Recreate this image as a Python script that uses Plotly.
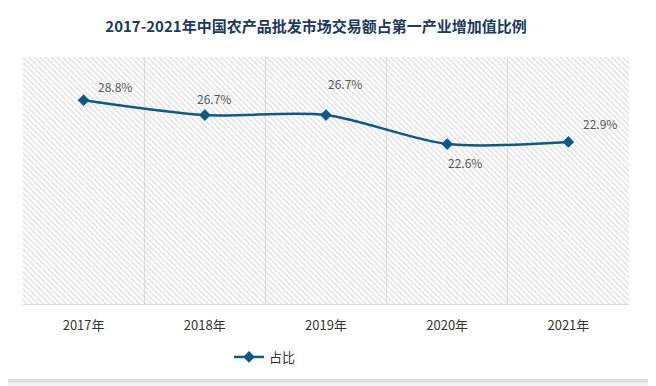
import plotly.graph_objects as go

# ---- data ----
years = ["2017年", "2018年", "2019年", "2020年", "2021年"]
share = [28.8, 26.7, 26.7, 22.6, 22.9]
series_name = "占比"
title_text = "2017-2021年中国农产品批发市场交易额占第一产业增加值比例"

# label offsets (style)
label_dx = [31, 9, 19, 18, 32]
label_dy = [14, 17, 32, -18, 18]

# page is rendered with an 8px body margin: compensate
OFF = 8
W, H = 656 - OFF, 386 - OFF
# plot area in page pixels
PL, PR, PT, PB = 23, 629, 57, 304
ML, MT = PL - OFF, PT - OFF
MR = W - (PR - OFF)
MB = H - (PB - OFF)
PW, PH = W - ML - MR, H - MT - MB


def px2x(px):  # page pixel -> paper x
    return (px - OFF - ML) / PW


def py2y(py):  # page pixel -> paper y
    return (H - MB - (py - OFF)) / PH


LINE = "#0e5a86"
FONT = "Noto Sans CJK SC, Noto Sans, sans-serif"

fig = go.Figure()

# hatched background of plot area (on hidden base axes)
fig.add_trace(go.Scatter(
    x=[0, 1, 1, 0, 0], y=[0, 0, 1, 1, 0], xaxis="x", yaxis="y",
    mode="lines", line=dict(width=0), fill="toself",
    fillcolor="rgba(0,0,0,0)",
    fillpattern=dict(shape="\\", fgcolor="#c6c6c6", bgcolor="rgba(255,255,255,0)",
                     size=4, solidity=0.4),
    hoverinfo="skip", showlegend=False,
))

# data line
fig.add_trace(go.Scatter(
    x=list(range(len(years))), y=share, xaxis="x2", yaxis="y2",
    mode="lines+markers", name=series_name,
    line=dict(color=LINE, width=2.5, shape="spline", smoothing=0.8),
    marker=dict(symbol="diamond", size=9, color=LINE),
))

annotations = []
for i, v in enumerate(share):
    annotations.append(dict(
        x=i, y=v, xref="x2", yref="y2", text=f"{v}%", showarrow=False,
        xshift=label_dx[i], yshift=label_dy[i],
        font=dict(family=FONT, size=12, color="#595959"),
    ))

shapes = [
    # outer grey surround with shadow
    dict(type="rect", xref="paper", yref="paper", layer="below",
         x0=px2x(0), x1=px2x(656), y0=py2y(386), y1=py2y(0),
         fillcolor="#f2f2f2", line=dict(width=0)),
    dict(type="rect", xref="paper", yref="paper", layer="below",
         x0=px2x(5), x1=px2x(652), y0=py2y(383), y1=py2y(3),
         fillcolor="#e8e8e8", line=dict(width=0)),
    dict(type="rect", xref="paper", yref="paper", layer="below",
         x0=px2x(6), x1=px2x(651), y0=py2y(382), y1=py2y(4),
         fillcolor="#dedede", line=dict(width=0)),
    # card
    dict(type="rect", xref="paper", yref="paper", layer="below",
         x0=px2x(8), x1=px2x(648), y0=py2y(379), y1=py2y(7),
         fillcolor="#ffffff", line=dict(width=0)),
]

fig.update_layout(
    width=W, height=H,
    margin=dict(l=ML, r=MR, t=MT, b=MB, pad=0),
    paper_bgcolor="#f2f2f2",
    plot_bgcolor="rgba(0,0,0,0)",
    font=dict(family=FONT, color="#333333"),
    title=dict(text=f"<b>{title_text}</b>", x=(316 - OFF) / W, xanchor="center",
               y=1 - (27 - OFF) / H, yanchor="middle",
               font=dict(family=FONT, size=15, color="#1b3a5c")),
    xaxis=dict(range=[0, 1], visible=False, fixedrange=True),
    yaxis=dict(range=[0, 1], visible=False, fixedrange=True),
    xaxis2=dict(overlaying="x", side="bottom", range=[-0.5, len(years) - 0.5],
                tickmode="array", tickvals=list(range(len(years))), ticktext=years,
                showgrid=False, zeroline=False,
                showline=True, linecolor="#d9d9d9", linewidth=1,
                ticks="outside", ticklen=9, tickcolor="rgba(0,0,0,0)",
                tickfont=dict(family=FONT, size=13, color="#333333"),
                minor=dict(tickmode="linear", tick0=0.5, dtick=1, showgrid=True,
                           gridcolor="#dedede", gridwidth=1, ticks="")),
    yaxis2=dict(overlaying="y", range=[0, 34.9], visible=False, showgrid=False),
    showlegend=True,
    legend=dict(orientation="h", x=px2x(265), xanchor="center", y=py2y(357), yanchor="middle",
                font=dict(family=FONT, size=13, color="#333333"),
                bgcolor="rgba(0,0,0,0)", itemwidth=30),
    annotations=annotations,
    shapes=shapes,
)

fig.write_html("out.html")
